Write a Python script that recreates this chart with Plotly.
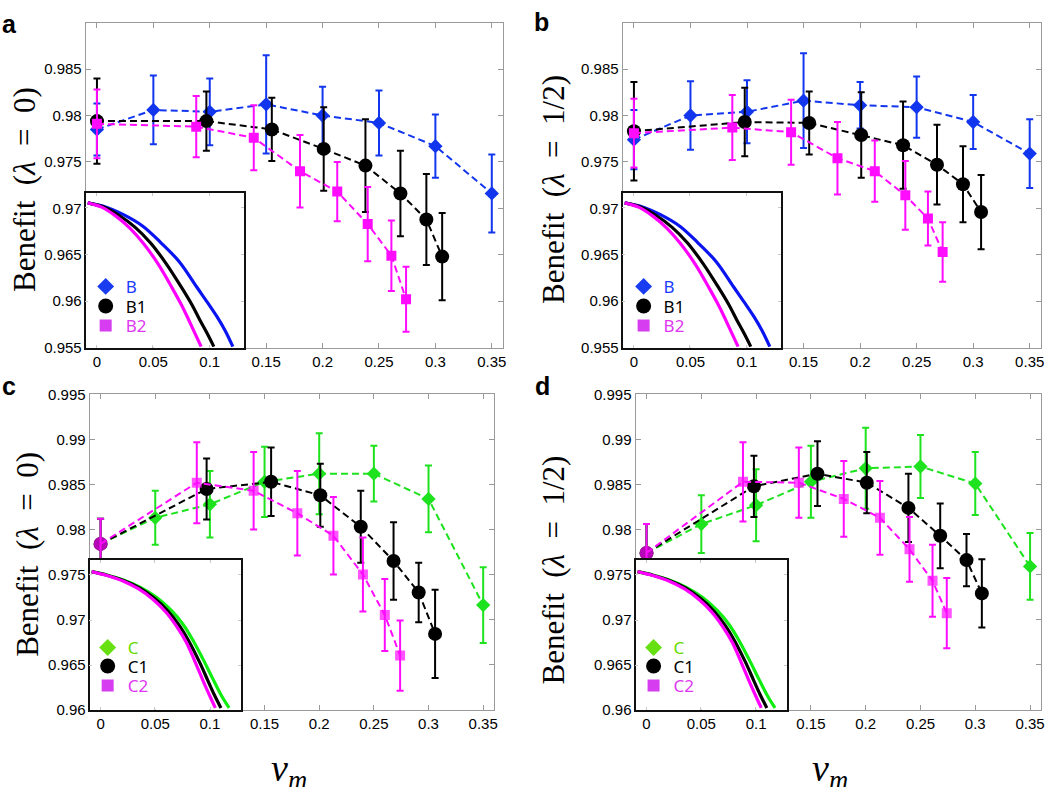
import plotly.graph_objects as go

# ---------------- data ----------------
x_full = [0, 0.05, 0.1, 0.15, 0.2, 0.25, 0.3, 0.35]

# panel a (lambda = 0), B series
a_B_y = [0.9785, 0.9806, 0.9804, 0.9812, 0.9800, 0.9792, 0.9767, 0.9716]
a_B_e = [0.0028, 0.0037, 0.0036, 0.0053, 0.0031, 0.0035, 0.0034, 0.0042]
a_B1_x = [0, 0.097, 0.155, 0.201, 0.238, 0.269, 0.292, 0.306]
a_B1_y = [0.9794, 0.9794, 0.9785, 0.9764, 0.9746, 0.9716, 0.9688, 0.9648]
a_B1_e = [0.0046, 0.0032, 0.0034, 0.0045, 0.0050, 0.0046, 0.0049, 0.0047]
a_B2_x = [0, 0.088, 0.139, 0.180, 0.213, 0.240, 0.261, 0.274]
a_B2_y = [0.9791, 0.9788, 0.9776, 0.9740, 0.9718, 0.9683, 0.9649, 0.9602]
a_B2_e = [0.0037, 0.0033, 0.0035, 0.0039, 0.0032, 0.0040, 0.0038, 0.0035]

# panel b (lambda = 1/2), B series
b_B_y = [0.9774, 0.9800, 0.9804, 0.9816, 0.9811, 0.9809, 0.9793, 0.9759]
b_B_e = [0.0032, 0.0037, 0.0034, 0.0051, 0.0025, 0.0033, 0.0029, 0.0037]
b_B1_x = [0, 0.098, 0.155, 0.201, 0.238, 0.268, 0.291, 0.307]
b_B1_y = [0.9783, 0.9793, 0.9792, 0.9779, 0.9768, 0.9747, 0.9726, 0.9696]
b_B1_e = [0.0053, 0.0037, 0.0034, 0.0046, 0.0047, 0.0043, 0.0041, 0.0040]
b_B2_x = [0, 0.087, 0.139, 0.180, 0.213, 0.240, 0.260, 0.273]
b_B2_y = [0.9781, 0.9787, 0.9782, 0.9754, 0.9740, 0.9714, 0.9689, 0.9653]
b_B2_e = [0.0037, 0.0035, 0.0035, 0.0039, 0.0033, 0.0037, 0.0029, 0.0032]

# panel c (lambda = 0), C series
c_C_y = [0.9784, 0.9813, 0.9828, 0.9853, 0.9862, 0.9862, 0.9834, 0.9716]
c_C_e = [0.0028, 0.0030, 0.0037, 0.0039, 0.0045, 0.0031, 0.0037, 0.0042]
c_C1_x = [0, 0.097, 0.156, 0.201, 0.238, 0.268, 0.291, 0.306]
c_C1_y = [0.9784, 0.9845, 0.9853, 0.9838, 0.9803, 0.9765, 0.9730, 0.9684]
c_C1_e = [0.0028, 0.0034, 0.0038, 0.0035, 0.0040, 0.0043, 0.0033, 0.0049]
c_C2_x = [0, 0.088, 0.140, 0.180, 0.213, 0.240, 0.260, 0.274]
c_C2_y = [0.9784, 0.9852, 0.9843, 0.9818, 0.9793, 0.9750, 0.9705, 0.9660]
c_C2_e = [0.0028, 0.0045, 0.0043, 0.0047, 0.0043, 0.0041, 0.0040, 0.0039]

# panel d (lambda = 1/2), C series
d_C_y = [0.9774, 0.9806, 0.9827, 0.9853, 0.9868, 0.9870, 0.9851, 0.9759]
d_C_e = [0.0032, 0.0032, 0.0040, 0.0040, 0.0045, 0.0035, 0.0035, 0.0037]
d_C1_x = [0, 0.098, 0.156, 0.201, 0.239, 0.268, 0.292, 0.306]
d_C1_y = [0.9774, 0.9848, 0.9862, 0.9852, 0.9824, 0.9793, 0.9766, 0.9729]
d_C1_e = [0.0032, 0.0034, 0.0036, 0.0034, 0.0038, 0.0036, 0.0029, 0.0038]
d_C2_x = [0, 0.088, 0.139, 0.180, 0.213, 0.240, 0.261, 0.274]
d_C2_y = [0.9774, 0.9853, 0.9852, 0.9834, 0.9813, 0.9778, 0.9743, 0.9707]
d_C2_e = [0.0032, 0.0044, 0.0039, 0.0042, 0.0041, 0.0036, 0.0040, 0.0039]

# inset curves (normalised inset units)
insB_B_x = [0.013, 0.130, 0.242, 0.361, 0.471, 0.592, 0.700, 0.770, 0.830, 0.880, 0.929]
insB_B_y = [0.936, 0.908, 0.858, 0.785, 0.682, 0.554, 0.393, 0.290, 0.198, 0.110, 0.006]
insB_B1_x = [0.013, 0.109, 0.212, 0.311, 0.410, 0.508, 0.609, 0.670, 0.720, 0.765, 0.809]
insB_B1_y = [0.936, 0.910, 0.854, 0.779, 0.676, 0.543, 0.382, 0.278, 0.180, 0.095, 0.006]
insB_B2_x = [0.013, 0.101, 0.191, 0.279, 0.370, 0.460, 0.550, 0.605, 0.650, 0.690, 0.729]
insB_B2_y = [0.936, 0.908, 0.850, 0.773, 0.667, 0.536, 0.378, 0.275, 0.180, 0.092, 0.006]

insC_C_x = [0.013, 0.114, 0.223, 0.332, 0.441, 0.539, 0.616, 0.681, 0.747, 0.812, 0.867, 0.921]
insC_C_y = [0.921, 0.899, 0.866, 0.818, 0.750, 0.662, 0.570, 0.465, 0.340, 0.208, 0.099, 0.011]
insC_C1_x = [0.013, 0.114, 0.223, 0.332, 0.430, 0.517, 0.594, 0.659, 0.725, 0.779, 0.823, 0.867]
insC_C1_y = [0.921, 0.897, 0.862, 0.811, 0.741, 0.658, 0.559, 0.450, 0.318, 0.197, 0.099, 0.011]
insC_C2_x = [0.013, 0.114, 0.223, 0.321, 0.419, 0.507, 0.572, 0.638, 0.692, 0.747, 0.790, 0.830]
insC_C2_y = [0.921, 0.895, 0.857, 0.807, 0.735, 0.647, 0.559, 0.450, 0.329, 0.197, 0.099, 0.011]

# ticks
x_tickvals = [0, 0.05, 0.1, 0.15, 0.2, 0.25, 0.3, 0.35]
x_ticktext = ["0", "0.05", "0.1", "0.15", "0.2", "0.25", "0.3", "0.35"]
yB_tickvals = [0.955, 0.96, 0.965, 0.97, 0.975, 0.98, 0.985]
yB_ticktext = ["0.955", "0.96", "0.965", "0.97", "0.975", "0.98", "0.985"]
yC_tickvals = [0.96, 0.965, 0.97, 0.975, 0.98, 0.985, 0.99, 0.995]
yC_ticktext = ["0.96", "0.965", "0.97", "0.975", "0.98", "0.985", "0.99", "0.995"]
insB_xt = [0.067, 0.424, 0.782]
insB_yt = [0.296, 0.603, 0.908]
insC_xt = [0.070, 0.430, 0.795]
insC_yt = [0.292, 0.596, 0.899]

# legend labels
legB_names = ["B", "B1", "B2"]
legC_names = ["C", "C1", "C2"]

# ---------------- style ----------------
BLUE = "#1236ee"
BLACK = "#000000"
MAG = "#ff0cff"
GREEN = "#1ee21e"
DASH = "7px,4px"

W, H = 1050, 787


def fx(px):
    return px / W


def fy(py):
    return 1 - py / H


fig = go.Figure()


def series(x, y, e, color, symbol, size, xa, ya):
    fig.add_trace(go.Scatter(
        x=x, y=y, mode="lines+markers", xaxis=xa, yaxis=ya, showlegend=False,
        line=dict(color=color, width=2, dash=DASH),
        marker=dict(color=color, symbol=symbol, size=size, line=dict(width=0)),
        error_y=dict(type="data", array=e, visible=True, color=color, thickness=2, width=3.5),
        hoverinfo="skip"))


def curve(x, y, color, xa, ya):
    fig.add_trace(go.Scatter(x=x, y=y, mode="lines", xaxis=xa, yaxis=ya, showlegend=False,
                             line=dict(color=color, width=3.2, shape="spline", smoothing=1.0),
                             hoverinfo="skip"))


def legend_item(name, txtcolor, color, symbol, size, xa, ya, leg):
    fig.add_trace(go.Scatter(x=[None], y=[None], mode="markers", xaxis=xa, yaxis=ya,
                             name="<span style='color:%s'>%s</span>" % (txtcolor, name),
                             legend=leg, showlegend=True,
                             marker=dict(color=color, symbol=symbol, size=size, line=dict(width=0))))


# panel a
series(x_full, a_B_y, a_B_e, BLUE, "diamond", 11, "x", "y")
series(a_B1_x, a_B1_y, a_B1_e, BLACK, "circle", 14, "x", "y")
series(a_B2_x, a_B2_y, a_B2_e, MAG, "square", 10, "x", "y")
# panel b
series(x_full, b_B_y, b_B_e, BLUE, "diamond", 11, "x2", "y2")
series(b_B1_x, b_B1_y, b_B1_e, BLACK, "circle", 14, "x2", "y2")
series(b_B2_x, b_B2_y, b_B2_e, MAG, "square", 10, "x2", "y2")
# panel c
series(x_full, c_C_y, c_C_e, GREEN, "diamond", 11, "x3", "y3")
series(c_C1_x, c_C1_y, c_C1_e, BLACK, "circle", 14, "x3", "y3")
series(c_C2_x, c_C2_y, c_C2_e, MAG, "square", 10, "x3", "y3")
# panel d
series(x_full, d_C_y, d_C_e, GREEN, "diamond", 11, "x4", "y4")
series(d_C1_x, d_C1_y, d_C1_e, BLACK, "circle", 14, "x4", "y4")
series(d_C2_x, d_C2_y, d_C2_e, MAG, "square", 10, "x4", "y4")
# first magenta C2 point appears as a circle in the reference
for i in (8, 11):
    fig.data[i].marker.symbol = ["circle"] + ["square"] * 7
    fig.data[i].marker.size = [14] + [10] * 7

# insets
for xa, ya in (("x5", "y5"), ("x6", "y6")):
    curve(insB_B_x, insB_B_y, "#0a14f0", xa, ya)
    curve(insB_B1_x, insB_B1_y, BLACK, xa, ya)
    curve(insB_B2_x, insB_B2_y, "#ff00ff", xa, ya)
for xa, ya in (("x7", "y7"), ("x8", "y8")):
    curve(insC_C_x, insC_C_y, "#10ee10", xa, ya)
    curve(insC_C1_x, insC_C1_y, BLACK, xa, ya)
    curve(insC_C2_x, insC_C2_y, "#ff00ff", xa, ya)

# legends: one single-entry legend per row
LEGFONT = dict(family="Noto Sans, Lato, sans-serif", size=17, color="#000")
leg_styles_B = [("#1a3cff", "#1a3cf0", "diamond", 13), ("#000000", BLACK, "circle", 15),
                ("#dd38f0", "#d63cf0", "square", 12)]
leg_styles_C = [("#66dd00", "#66e010", "diamond", 13), ("#000000", BLACK, "circle", 15),
                ("#dd38f0", "#d63cf0", "square", 12)]
leg_rows_top = [284, 304, 324]
leg_rows_bot = [653, 672, 692]
leg_specs = []
k = 1
for (xa, ya, names, styles, rows, lx) in (("x5", "y5", legB_names, leg_styles_B, leg_rows_top, 86),
                                          ("x6", "y6", legB_names, leg_styles_B, leg_rows_top, 626),
                                          ("x7", "y7", legC_names, leg_styles_C, leg_rows_bot, 88),
                                          ("x8", "y8", legC_names, leg_styles_C, leg_rows_bot, 636)):
    for name, st, ry in zip(names, styles, rows):
        key = "legend" if k == 1 else "legend%d" % k
        legend_item(name, st[0], st[1], st[2], st[3], xa, ya, key)
        leg_specs.append((key, lx, ry))
        k += 1

TICKFONT = dict(family="Liberation Sans, Arial, sans-serif", size=15, color="#000")
FRAME = "#9a9a9a"


def main_x(dom, anchor):
    return dict(domain=dom, anchor=anchor, range=[-0.01, 0.36], tickvals=x_tickvals, ticktext=x_ticktext,
                ticks="inside", ticklen=5, tickcolor=FRAME, showline=True, linecolor=FRAME, linewidth=1,
                mirror="ticks", zeroline=False, showgrid=False, tickfont=TICKFONT, fixedrange=True,
                ticklabeloverflow="allow")


def main_y(dom, anchor, rng, tv, tt):
    return dict(domain=dom, anchor=anchor, range=rng, tickvals=tv, ticktext=tt,
                ticks="inside", ticklen=5, tickcolor=FRAME, showline=True, linecolor=FRAME, linewidth=1,
                mirror="ticks", zeroline=False, showgrid=False, tickfont=TICKFONT, fixedrange=True,
                ticklabeloverflow="allow")


def inset_axis(dom, anchor, tv):
    return dict(domain=dom, anchor=anchor, range=[0, 1], tickvals=tv, showticklabels=False,
                ticks="inside", ticklen=3, tickcolor="#c8c8c8", showline=True, linecolor="#111",
                linewidth=1.6, mirror="ticks", zeroline=False, showgrid=False, fixedrange=True)


A_X = [fx(86), fx(505)]
B_X = [fx(625), fx(1045)]
C_X = [fx(90), fx(496)]
D_X = [fx(638), fx(1045)]
TOP_Y = [fy(346), fy(14)]
BOT_Y = [fy(716), fy(394)]

fig.update_layout(
    width=W, height=H, margin=dict(l=0, r=0, t=0, b=0),
    paper_bgcolor="white", plot_bgcolor="white",
    xaxis=main_x(A_X, "y"), yaxis=main_y(TOP_Y, "x", [0.955, 0.990], yB_tickvals, yB_ticktext),
    xaxis2=main_x(B_X, "y2"), yaxis2=main_y(TOP_Y, "x2", [0.955, 0.990], yB_tickvals, yB_ticktext),
    xaxis3=main_x(C_X, "y3"), yaxis3=main_y(BOT_Y, "x3", [0.96, 0.995], yC_tickvals, yC_ticktext),
    xaxis4=main_x(D_X, "y4"), yaxis4=main_y(BOT_Y, "x4", [0.96, 0.995], yC_tickvals, yC_ticktext),
    xaxis5=inset_axis([fx(86), fx(245)], "y5", insB_xt), yaxis5=inset_axis([fy(346), fy(188)], "x5", insB_yt),
    xaxis6=inset_axis([fx(625), fx(784)], "y6", insB_xt), yaxis6=inset_axis([fy(346), fy(188)], "x6", insB_yt),
    xaxis7=inset_axis([fx(90), fx(242)], "y7", insC_xt), yaxis7=inset_axis([fy(716), fy(563)], "x7", insC_yt),
    xaxis8=inset_axis([fx(638), fx(790)], "y8", insC_xt), yaxis8=inset_axis([fy(716), fy(563)], "x8", insC_yt),
)

for key, px, py in leg_specs:
    fig.update_layout({key: dict(x=fx(px), y=fy(py), xanchor="left", yanchor="middle",
                                 bgcolor="rgba(0,0,0,0)", borderwidth=0, font=LEGFONT,
                                 itemsizing="trace", itemwidth=30)})

# annotations: axis titles and panel letters
SERIF = "Liberation Serif, Times New Roman, serif"
EN = "\u2002"
ann = []
for txt, px, py in (("Benefit" + EN + "(<i>λ</i>" + EN + "=" + EN + "0)", 24, 184),
                    ("Benefit" + EN + "(<i>λ</i>" + EN + "=" + EN + "1/2)", 555, 184),
                    ("Benefit" + EN + "(<i>λ</i>" + EN + "=" + EN + "0)", 28, 557),
                    ("Benefit" + EN + "(<i>λ</i>" + EN + "=" + EN + "1/2)", 556, 573)):
    ann.append(dict(text=txt, x=fx(px), y=fy(py), xref="paper", yref="paper", showarrow=False,
                    textangle=-90, xanchor="center", yanchor="middle",
                    font=dict(family=SERIF, size=31, color="#000")))
for px in (290, 833):
    ann.append(dict(text="<i>v</i><sub><i>m</i></sub>", x=fx(px), y=fy(779), xref="paper", yref="paper",
                    showarrow=False, xanchor="center", yanchor="middle",
                    font=dict(family=SERIF, size=38, color="#000")))
for txt, px, py in (("a", 0, 15), ("b", 534, 13), ("c", 0, 385), ("d", 535, 385)):
    ann.append(dict(text="<b>" + txt + "</b>", x=fx(px), y=fy(py), xref="paper", yref="paper",
                    showarrow=False, xanchor="left", yanchor="middle",
                    font=dict(family="Liberation Sans, Arial, sans-serif", size=25, color="#000")))
fig.update_layout(annotations=ann)

fig.write_html("out.html", config={"displayModeBar": False},
               post_script="document.body.style.margin='0';document.body.style.overflow='hidden';")
